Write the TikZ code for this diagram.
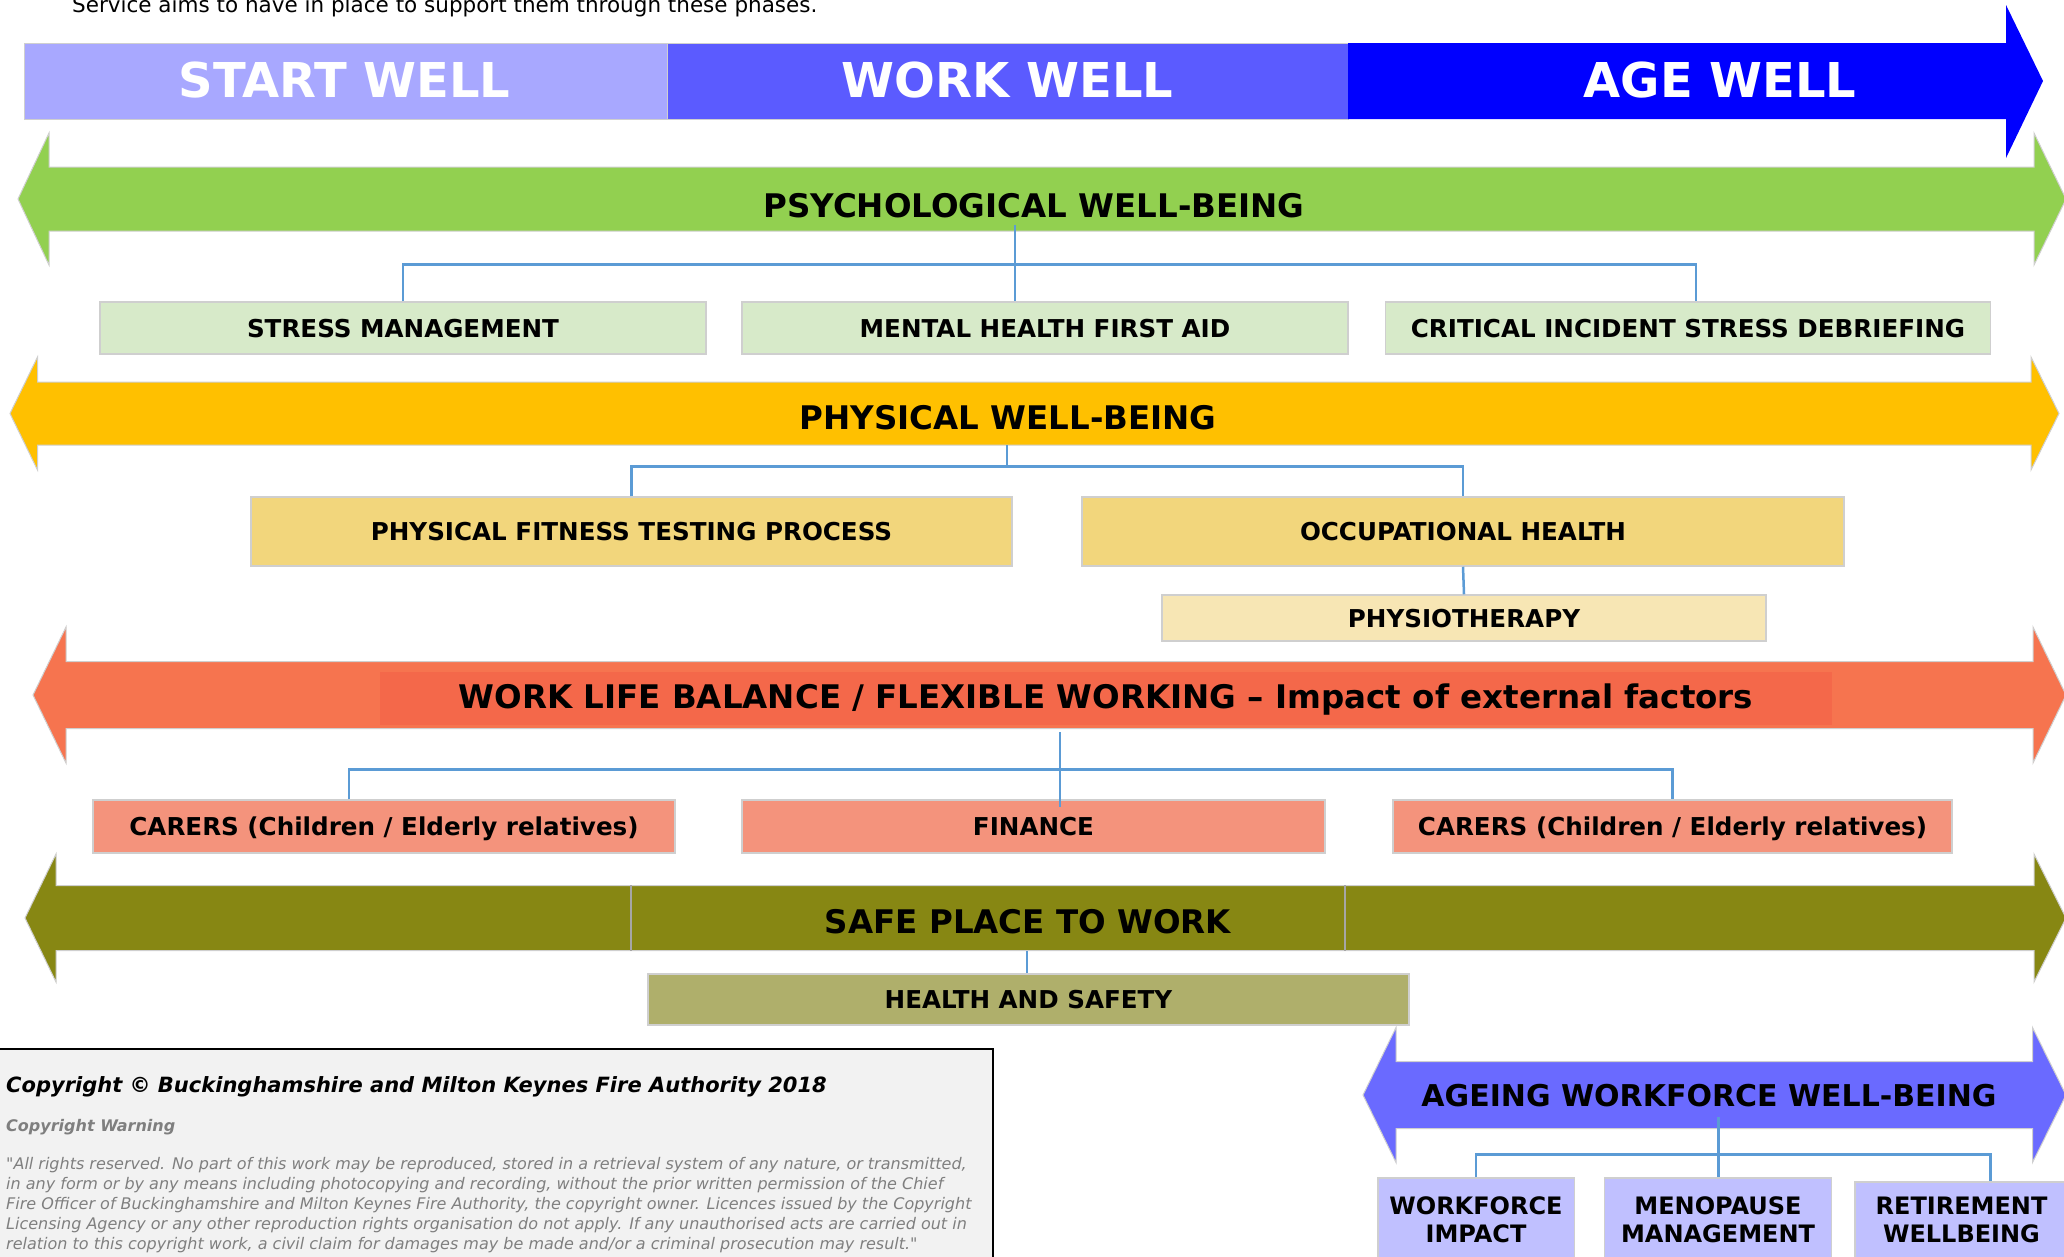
\documentclass[tikz,border=0pt]{standalone}
\usepackage{fontspec}
\setmainfont{DejaVu Sans}
\newfontfamily\cpfont{DejaVu Sans}[Ligatures=TeXOff]
\usetikzlibrary{calc}
\definecolor{startc}{HTML}{A8A8FF}
\definecolor{workc}{HTML}{5B5BFF}
\definecolor{agec}{HTML}{0000FF}
\definecolor{psyc}{HTML}{92D050}
\definecolor{psybox}{HTML}{D7EAC9}
\definecolor{phyc}{HTML}{FFC000}
\definecolor{phybox}{HTML}{F2D67C}
\definecolor{physiobox}{HTML}{F7E6B4}
\definecolor{wlbc}{HTML}{F6744F}
\definecolor{wlbin}{HTML}{F4684A}
\definecolor{wlbbox}{HTML}{F4937C}
\definecolor{safec}{HTML}{878713}
\definecolor{safebox}{HTML}{AFAF6B}
\definecolor{agingc}{HTML}{6A6AFF}
\definecolor{agingbox}{HTML}{C0C0FF}
\definecolor{connc}{HTML}{5B9BD5}
\definecolor{edgec}{HTML}{CFCFCF}
\definecolor{cpbg}{HTML}{F2F2F2}
\definecolor{cpgray}{HTML}{7F7F7F}
% #1 colour, #2 left tip x, #3 left back x, #4 right back x, #5 right tip x, #6 centre y, #7 half body, #8 half head
\newcommand\bandarrow[8]{\fill[#1, draw=edgec, line width=1] (#2,#6) -- (#3,#6-#8) -- (#3,#6-#7) -- (#4,#6-#7) -- (#4,#6-#8) -- (#5,#6) -- (#4,#6+#8) -- (#4,#6+#7) -- (#3,#6+#7) -- (#3,#6+#8) -- cycle;}
\begin{document}
\begin{tikzpicture}[x=1pt,y=-1pt,
  phasetxt/.style={anchor=base, text=white, font=\fontsize{48}{56}\selectfont\bfseries},
  bandtxt/.style={anchor=base, text=black, font=\fontsize{32.5}{38}\selectfont\bfseries},
  itembox/.style={draw=edgec, line width=1.5, inner sep=0pt, text=black,
     font=\fontsize{24.6}{28}\selectfont\bfseries, text height=18pt, text depth=0pt},
  twobox/.style={draw=edgec, line width=1.5, inner sep=0pt, text=black, align=center,
     font=\fontsize{24}{28}\selectfont\bfseries},
  conn/.style={draw=connc, line width=2.5}]
\useasboundingbox (0,0) rectangle (2064,1256);

% intro line (cut at top)
\node[anchor=base west, inner sep=0pt, font=\fontsize{21.5}{25}\selectfont] (intro) at (72,12.5)
  {Service aims to have in place to support them through these phases.};

% phase bar
\fill[startc, draw=edgec, line width=1] (24,43) rectangle (667,119);
\fill[workc, draw=edgec, line width=1] (667,43) rectangle (1348,119);
\fill[agec] (1348,43) -- (2006,43) -- (2006,5) -- (2043,81) -- (2006,158) -- (2006,119) -- (1348,119) -- cycle;
\node[phasetxt] (startw) at (344.5,97) {START WELL};
\node[phasetxt] (workw) at (1007.5,97) {WORK WELL};
\node[phasetxt] (agew) at (1720,97) {AGE WELL};

% psychological
\bandarrow{psyc}{18}{49}{2034}{2066}{199}{32}{66}
\node[bandtxt] (psych) at (1034,217) {PSYCHOLOGICAL WELL-BEING};
\node[itembox, fill=psybox, minimum width=606, minimum height=52] (stress) at (403,328) {STRESS MANAGEMENT};
\node[itembox, fill=psybox, minimum width=606, minimum height=52] (mhfa) at (1045,328) {MENTAL HEALTH FIRST AID};
\node[itembox, fill=psybox, minimum width=605, minimum height=52] (cisd) at (1688,328) {CRITICAL INCIDENT STRESS DEBRIEFING};
\coordinate (psyj) at (1015,225);
\draw[conn] (psyj) -- (psyj |- mhfa.north);
\draw[conn] (stress.north) -- ++(0,-37) -| ($(cisd.north)+(8,0)$);

% physical
\bandarrow{phyc}{10}{37.5}{2031}{2059}{413.5}{31.5}{56.5}
\node[bandtxt] (phys) at (1008,429) {PHYSICAL WELL-BEING};
\node[itembox, fill=phybox, minimum width=761, minimum height=69] (pft) at (631.5,531.5) {PHYSICAL FITNESS TESTING PROCESS};
\node[itembox, fill=phybox, minimum width=762, minimum height=69] (occ) at (1463,531.5) {OCCUPATIONAL HEALTH};
\node[itembox, fill=physiobox, minimum width=604, minimum height=46] (physio) at (1464,618) {PHYSIOTHERAPY};
\coordinate (phyj) at (1007,445);
\draw[conn] (phyj) -- ++(0,22);
\draw[conn] (pft.north) -- ++(0,-30) -| (occ.north);
\draw[conn] (occ.south) -- (physio.north);

% work life balance
\bandarrow{wlbc}{33}{66}{2033}{2066}{695}{33.5}{68}
\fill[wlbin] (380,672) rectangle (1832,725);
\node[bandtxt] (wlb) at (1106,708) {WORK LIFE BALANCE / FLEXIBLE WORKING – Impact of external factors};
\node[itembox, fill=wlbbox, minimum width=582, minimum height=53] (carers1) at (384,826.5) {CARERS (Children / Elderly relatives)};
\node[itembox, fill=wlbbox, minimum width=583, minimum height=53] (finance) at (1033.5,826.5) {FINANCE};
\node[itembox, fill=wlbbox, minimum width=559, minimum height=53] (carers2) at (1672.5,826.5) {CARERS (Children / Elderly relatives)};
\coordinate (wlbj) at (1060,732);
\draw[conn] (wlbj) -- ($(wlbj |- finance.north)+(0,8)$);
\draw[conn] ($(carers1.north)+(-35,0)$) -- ++(0,-30) -| (carers2.north);

% safe place to work
\bandarrow{safec}{25}{56}{2034}{2066}{918}{32.5}{64}
\draw[gray!70, line width=1.5] (631,885) -- (631,951);
\draw[gray!70, line width=1.5] (1345,885) -- (1345,951);
\node[bandtxt] (safe) at (1028,933) {SAFE PLACE TO WORK};
\node[itembox, fill=safebox, minimum width=761, minimum height=51] (hs) at (1028.5,999.5) {HEALTH AND SAFETY};
\coordinate (safej) at (1027,951);
\draw[conn] (safej) -- (safej |- hs.north);

% copyright
\fill[cpbg, draw=black, line width=2] (-2,1049) rectangle (993,1275);
\node[anchor=base west, inner sep=0pt, font=\fontsize{21}{25}\selectfont\bfseries\itshape] (cp1) at (6,1092.5)
  {Copyright © Buckinghamshire and Milton Keynes Fire Authority 2018};
\node[anchor=base west, inner sep=0pt, text=cpgray, font=\fontsize{16}{19}\selectfont\bfseries\itshape] (cp2) at (6,1131)
  {Copyright Warning};
\tikzset{qline/.style={anchor=base west, inner sep=0pt, text=cpgray, font=\cpfont\fontsize{16}{20}\selectfont\itshape}}
\node[qline] (q1) at (6,1169) {"All rights reserved. No part of this work may be reproduced, stored in a retrieval system of any nature, or transmitted,};
\node[qline] (q2) at (6,1189) {in any form or by any means including photocopying and recording, without the prior written permission of the Chief};
\node[qline] (q3) at (6,1209) {Fire Officer of Buckinghamshire and Milton Keynes Fire Authority, the copyright owner. Licences issued by the Copyright};
\node[qline] (q4) at (6,1229) {Licensing Agency or any other reproduction rights organisation do not apply. If any unauthorised acts are carried out in};
\node[qline] (q5) at (6,1249) {relation to this copyright work, a civil claim for damages may be made and/or a criminal prosecution may result."};

% ageing workforce
\bandarrow{agingc}{1363}{1396}{2032.5}{2066}{1095}{33.5}{67.5}
\node[anchor=base, text=black, font=\fontsize{30}{36}\selectfont\bfseries] (ageing) at (1709,1106) {AGEING WORKFORCE WELL-BEING};
\node[twobox, fill=agingbox, minimum width=196.5, minimum height=84] (wi) at (1476,1220) {WORKFORCE\\IMPACT};
\node[twobox, fill=agingbox, minimum width=227, minimum height=84] (mm) at (1718,1220) {MENOPAUSE\\MANAGEMENT};
\node[twobox, fill=agingbox, minimum width=213, minimum height=76] (rw) at (1961.5,1220) {RETIREMENT\\WELLBEING};
\coordinate (agej) at (1718.6,1117);
\draw[conn] (agej) -- (agej |- mm.north);
\draw[conn] (wi.north) -- ++(0,-23) -| ($(rw.north)+(29,0)$);
\end{tikzpicture}
\end{document}
